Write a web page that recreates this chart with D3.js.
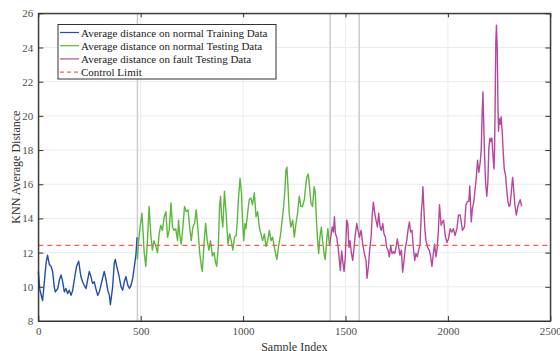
<!DOCTYPE html>
<html>
<head>
<meta charset="utf-8">
<script src="https://cdn.jsdelivr.net/npm/d3@7"></script>
<style>
  body { margin: 0; background: #fff; }
</style>
</head>
<body>
<div class="chart"></div>
<script>
// sample index / average distance pairs
var trainData = [
  [0,10.9],[8,9.8],[21,9.2],[28,10.1],[38,11.4],[45,11.85],[54,11.3],[62,11.2],[70,10.9],[78,10.0],
  [83,9.7],[95,9.9],[103,10.4],[111,10.7],[119,10.3],[127,9.7],[135,9.9],[143,9.6],[151,9.8],[160,9.5],
  [168,9.8],[181,10.8],[187,11.2],[197,11.5],[208,10.6],[216,10.3],[224,10.1],[233,9.9],[241,10.4],[249,10.9],
  [257,10.6],[265,10.2],[273,10.3],[281,9.9],[290,9.5],[298,9.7],[306,10.1],[314,10.5],[322,10.9],[331,10.4],
  [339,9.8],[347,9.5],[352,8.95],[363,10.0],[371,11.4],[376,11.6],[383,11.2],[393,10.7],[404,10.0],[412,9.8],
  [420,10.3],[428,10.6],[437,10.1],[445,9.9],[453,10.1],[461,10.5],[469,11.2],[477,11.9],[482,12.9]
];

var testData = [
  [484,11.6],[490,12.7],[497,13.5],[506,14.3],[512,13.1],[517,12.0],[525,11.2],[533,12.7],[541,14.7],[549,13.1],
  [557,12.15],[565,12.7],[574,12.35],[582,12.0],[590,13.1],[598,13.6],[606,13.3],[615,14.1],[623,14.4],[631,12.9],
  [639,13.3],[648,14.9],[655,13.5],[663,13.3],[671,13.4],[680,12.7],[685,13.9],[690,13.1],[698,12.5],[706,13.5],
  [714,14.7],[722,14.4],[731,14.5],[739,13.5],[747,12.7],[755,13.5],[763,13.7],[771,14.5],[780,13.3],[788,12.0],
  [796,11.2],[801,10.9],[809,12.5],[817,13.7],[825,12.7],[833,12.15],[841,12.7],[850,11.8],[858,12.0],[866,11.4],
  [871,11.2],[879,12.35],[885,14.7],[890,15.3],[895,14.1],[901,13.5],[909,15.6],[918,14.1],[926,12.5],[934,13.1],
  [942,12.7],[950,12.15],[958,12.9],[966,13.0],[971,13.7],[977,15.1],[985,16.35],[992,15.5],[998,13.7],[1003,12.7],
  [1009,13.7],[1014,13.4],[1022,14.3],[1030,15.1],[1038,15.2],[1046,14.8],[1055,15.5],[1063,14.1],[1071,14.4],[1079,13.5],
  [1087,13.1],[1095,12.7],[1104,13.1],[1112,12.35],[1120,12.7],[1128,13.3],[1136,12.7],[1144,12.9],[1152,12.35],[1161,11.8],
  [1165,11.6],[1173,12.35],[1181,12.9],[1189,13.7],[1198,14.7],[1204,15.65],[1209,16.8],[1214,17.0],[1220,15.65],[1225,14.3],
  [1233,13.5],[1242,13.9],[1250,12.9],[1258,13.7],[1266,14.3],[1274,15.3],[1282,14.7],[1290,14.7],[1299,15.1],[1307,16.05],
  [1312,16.45],[1318,16.6],[1323,16.05],[1331,14.9],[1339,14.7],[1347,15.85],[1352,15.5],[1359,13.7],[1364,12.7],[1369,11.95],
  [1375,12.9],[1382,13.5],[1388,12.7],[1397,11.8],[1401,11.6],[1408,12.7],[1414,13.4],[1421,12.5]
];

var faultData = [
  [1422,12.4],[1428,12.9],[1435,13.5],[1441,13.2],[1446,14.1],[1451,13.1],[1457,12.9],[1464,12.3],[1470,11.55],[1475,10.95],
  [1481,12.1],[1486,11.55],[1493,10.9],[1499,11.75],[1506,13.9],[1511,13.7],[1517,12.3],[1522,12.7],[1529,11.95],[1535,11.55],
  [1542,12.3],[1548,13.1],[1555,13.7],[1561,13.3],[1568,12.9],[1576,13.3],[1584,12.5],[1592,11.95],[1600,11.55],[1605,10.5],
  [1612,11.2],[1618,12.15],[1625,12.9],[1630,14.1],[1636,14.95],[1643,14.3],[1649,13.9],[1656,13.5],[1662,14.3],[1669,13.5],
  [1675,13.3],[1682,13.7],[1688,13.1],[1695,12.9],[1701,12.3],[1708,12.15],[1714,11.75],[1721,12.4],[1727,11.95],[1734,12.05],
  [1740,11.95],[1747,12.3],[1753,12.8],[1760,12.3],[1766,11.85],[1773,12.15],[1779,10.85],[1786,11.55],[1792,12.3],[1799,12.7],
  [1805,13.3],[1812,13.8],[1818,13.2],[1825,13.3],[1831,12.3],[1838,11.55],[1844,11.95],[1851,11.75],[1857,12.15],[1864,12.5],
  [1870,14.3],[1875,15.05],[1878,15.85],[1883,14.5],[1888,13.3],[1893,12.7],[1901,12.3],[1909,12.15],[1916,11.75],[1922,11.2],
  [1929,11.95],[1935,12.5],[1942,11.75],[1948,12.3],[1954,13.4],[1959,14.8],[1967,13.6],[1974,13.8],[1979,13.9],[1987,13.0],
  [1995,12.6],[2003,12.8],[2011,13.4],[2019,13.2],[2027,13.4],[2035,13.0],[2044,13.4],[2052,14.2],[2060,14.2],[2065,13.8],
  [2071,13.3],[2076,13.4],[2081,13.5],[2088,14.8],[2096,15.0],[2102,15.0],[2107,15.9],[2114,13.8],[2120,14.6],[2127,15.0],
  [2133,15.75],[2138,16.3],[2145,17.4],[2151,16.7],[2158,17.3],[2163,18.1],[2167,20.0],[2171,21.4],[2174,20.0],[2179,17.7],
  [2184,16.1],[2190,15.3],[2195,16.1],[2200,18.1],[2205,18.7],[2210,18.5],[2215,18.7],[2220,17.7],[2225,16.9],[2228,18.1],
  [2231,21.0],[2234,24.3],[2237,25.3],[2241,23.9],[2244,21.0],[2247,19.1],[2250,19.85],[2255,19.5],[2260,19.95],[2265,19.1],
  [2270,17.9],[2275,16.9],[2281,16.55],[2286,15.85],[2293,15.0],[2299,14.7],[2304,14.8],[2311,15.75],[2316,16.4],[2321,15.75],
  [2327,14.8],[2334,14.2],[2340,14.6],[2347,14.9],[2353,15.1],[2360,14.7]
];

var controlLimit = 12.42;
var markerLines = [484, 1425, 1567];

var xTicks = [0, 500, 1000, 1500, 2000, 2500];
var yTicks = [8, 10, 12, 14, 16, 18, 20, 22, 24, 26];

var legendLabels = [
  "Average distance on normal Training Data",
  "Average distance on normal Testing Data",
  "Average distance on fault Testing Data",
  "Control Limit"
];

var serif = "'Liberation Serif', 'Times New Roman', Times, 'DejaVu Serif', serif";

var svgWidth = 560, svgHeight = 351;
var margin = { top: 13.3, right: 9.7, bottom: 30, left: 38.3 };
var width = svgWidth - margin.left - margin.right;
var height = svgHeight - margin.top - margin.bottom;

var svg = d3.select(".chart").append("svg")
  .attr("width", svgWidth)
  .attr("height", svgHeight)
  .style("font-family", serif);

var chartGroup = svg.append("g")
  .attr("transform", `translate(${margin.left}, ${margin.top})`);

var xScale = d3.scaleLinear().domain([0, 2500]).range([0, width]);
var yScale = d3.scaleLinear().domain([8, 26]).range([height, 0]);

// grid
chartGroup.append("g").selectAll("line")
  .data(xTicks.slice(1, -1)).enter().append("line")
  .attr("x1", d => xScale(d)).attr("x2", d => xScale(d))
  .attr("y1", 0).attr("y2", height)
  .attr("stroke", "#ebebeb").attr("stroke-width", 1);

chartGroup.append("g").selectAll("line")
  .data(yTicks.slice(1, -1)).enter().append("line")
  .attr("x1", 0).attr("x2", width)
  .attr("y1", d => yScale(d)).attr("y2", d => yScale(d))
  .attr("stroke", "#ebebeb").attr("stroke-width", 1);

// boundary lines
chartGroup.append("g").selectAll("line")
  .data(markerLines).enter().append("line")
  .attr("x1", d => xScale(d)).attr("x2", d => xScale(d))
  .attr("y1", 0).attr("y2", height)
  .attr("stroke", "#cccccc").attr("stroke-width", 1.5);

// series
var line = d3.line()
  .x(d => xScale(d[0]))
  .y(d => yScale(d[1]));

var series = [
  { data: trainData, color: "#2350a6" },
  { data: testData, color: "#5cb83c" },
  { data: faultData, color: "#b5479f" }
];

series.forEach(function(s) {
  chartGroup.append("path")
    .datum(s.data)
    .attr("d", line)
    .attr("fill", "none")
    .attr("stroke", s.color)
    .attr("stroke-width", 1.4)
    .attr("stroke-linejoin", "round");
});

chartGroup.append("line")
  .attr("x1", 0).attr("x2", width)
  .attr("y1", yScale(controlLimit)).attr("y2", yScale(controlLimit))
  .attr("stroke", "#e8644f")
  .attr("stroke-width", 1.2)
  .attr("stroke-dasharray", "5,4");

// axes (box with inward ticks)
var axisColor = "#333";
var xAxis = d3.axisBottom(xScale).tickValues(xTicks).tickFormat(d3.format("d"))
  .tickSizeInner(-5).tickSizeOuter(0).tickPadding(6);
var yAxis = d3.axisLeft(yScale).tickValues(yTicks).tickFormat(d3.format("d"))
  .tickSizeInner(-5).tickSizeOuter(0).tickPadding(5);

chartGroup.append("g")
  .attr("transform", `translate(0, ${height})`)
  .call(xAxis);
chartGroup.append("g").call(yAxis);

chartGroup.append("g")
  .call(d3.axisTop(xScale).tickValues(xTicks).tickSizeInner(-4).tickSizeOuter(0).tickFormat(""));
chartGroup.append("g")
  .attr("transform", `translate(${width}, 0)`)
  .call(d3.axisRight(yScale).tickValues(yTicks).tickSizeInner(-5).tickSizeOuter(0).tickFormat(""));

chartGroup.selectAll("g").attr("font-family", serif);
chartGroup.selectAll(".domain").attr("stroke", axisColor);
chartGroup.selectAll(".tick line").attr("stroke", axisColor);
chartGroup.selectAll(".tick text")
  .attr("fill", "#4d4d4d")
  .attr("font-family", serif)
  .attr("font-size", "11px");

chartGroup.append("rect")
  .attr("x", 0).attr("y", 0)
  .attr("width", width).attr("height", height)
  .attr("fill", "none")
  .attr("stroke", axisColor)
  .attr("stroke-width", 1);

// axis labels
svg.append("text")
  .attr("transform", `translate(${margin.left + width / 2}, 351)`)
  .attr("text-anchor", "middle")
  .attr("font-family", serif)
  .attr("font-size", "12px")
  .attr("fill", "#333")
  .text("Sample Index");

svg.append("text")
  .attr("transform", `translate(20, ${margin.top + height / 2}) rotate(-90)`)
  .attr("text-anchor", "middle")
  .attr("font-family", serif)
  .attr("font-size", "12px")
  .attr("fill", "#333")
  .text("KNN Average Distance");

// legend
var legend = svg.append("g").attr("transform", "translate(58, 24.5)");
legend.append("rect")
  .attr("width", 218).attr("height", 54.5)
  .attr("fill", "#fff")
  .attr("stroke", "#333")
  .attr("stroke-width", 1);

var legendColors = ["#2350a6", "#5cb83c", "#b5479f", "#e8644f"];
legendLabels.forEach(function(label, i) {
  var y = 8 + i * 13.2;
  legend.append("line")
    .attr("x1", 2).attr("x2", 21)
    .attr("y1", y).attr("y2", y)
    .attr("stroke", legendColors[i])
    .attr("stroke-width", 1.2)
    .attr("stroke-dasharray", i === 3 ? "4,3" : null);
  legend.append("text")
    .attr("x", 23).attr("y", y + 4)
    .attr("font-family", serif)
    .attr("font-size", "11px")
    .attr("fill", "#222")
    .text(label);
});
</script>
</body>
</html>
